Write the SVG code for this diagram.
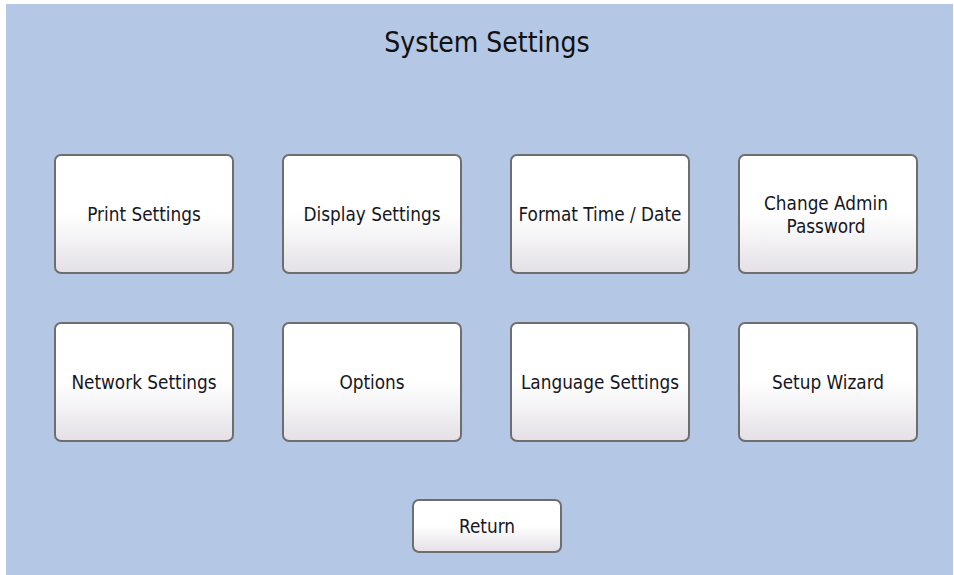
<svg xmlns="http://www.w3.org/2000/svg" width="954" height="575" viewBox="0 0 954 575">
<defs>
<linearGradient id="btn" x1="0" y1="0" x2="0" y2="1">
<stop offset="0" stop-color="#ffffff"/>
<stop offset="0.5" stop-color="#ffffff"/>
<stop offset="1" stop-color="#e4e0e6"/>
</linearGradient>
<style>
.b{fill:url(#btn);stroke:#6e6e6e;stroke-width:2}
.t{font-family:"DejaVu Sans Condensed","DejaVu Sans",sans-serif;font-stretch:condensed;font-size:18.8px;fill:#161622;text-anchor:middle}
.title{font-family:"DejaVu Sans Condensed","DejaVu Sans",sans-serif;font-stretch:condensed;font-size:28px;fill:#111;text-anchor:middle}
</style>
</defs>
<rect x="0" y="0" width="954" height="575" fill="#ffffff"/>
<rect x="6" y="4" width="947" height="571" fill="#b4c7e4"/>
<text class="title" x="487" y="52">System Settings</text>
<g id="print-settings"><rect class="b" x="55" y="155" width="178" height="118" rx="6"/><text class="t" x="144" y="221">Print Settings</text></g>
<g id="display-settings"><rect class="b" x="283" y="155" width="178" height="118" rx="6"/><text class="t" x="372" y="221">Display Settings</text></g>
<g id="format-time-date"><rect class="b" x="511" y="155" width="178" height="118" rx="6"/><text class="t" x="600" y="221">Format Time / Date</text></g>
<g id="change-admin-password"><rect class="b" x="739" y="155" width="178" height="118" rx="6"/><text class="t" x="826" y="210">Change Admin</text><text class="t" x="826" y="233">Password</text></g>
<g id="network-settings"><rect class="b" x="55" y="323" width="178" height="118" rx="6"/><text class="t" x="144" y="389">Network Settings</text></g>
<g id="options"><rect class="b" x="283" y="323" width="178" height="118" rx="6"/><text class="t" x="372" y="389">Options</text></g>
<g id="language-settings"><rect class="b" x="511" y="323" width="178" height="118" rx="6"/><text class="t" x="600" y="389">Language Settings</text></g>
<g id="setup-wizard"><rect class="b" x="739" y="323" width="178" height="118" rx="6"/><text class="t" x="828" y="389">Setup Wizard</text></g>
<g id="return"><rect class="b" x="413" y="500" width="148" height="52" rx="6"/><text class="t" x="487" y="533">Return</text></g>
<g id="connectors"></g>
</svg>
